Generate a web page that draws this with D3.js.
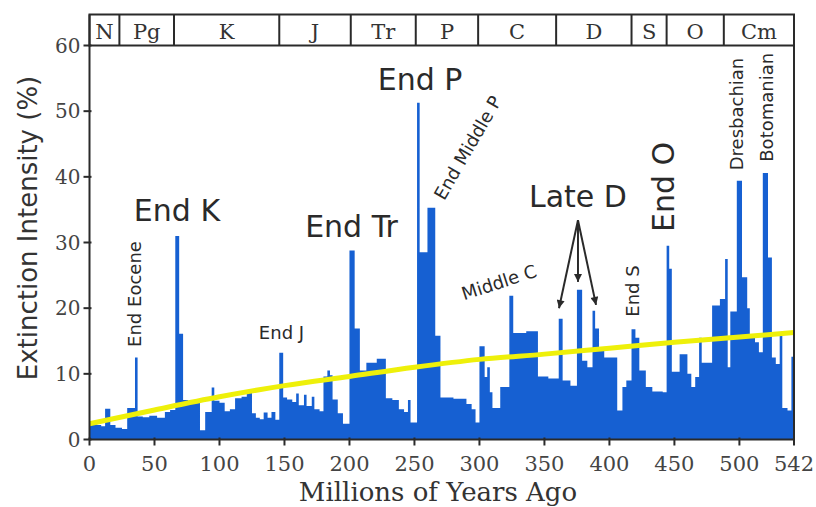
<!DOCTYPE html>
<html>
<head>
<meta charset="utf-8">
<script src="https://cdn.jsdelivr.net/npm/d3@7"></script>
<style>
  body { margin: 0; background: #fff; }
  svg { display: block; }
</style>
</head>
<body>
<svg id="chart" width="816" height="507"></svg>
<script>
// Extinction intensity per time bin (Ma). binEdges has one more entry than intensity.
const binEdges = [
  0, 3, 6, 9, 12, 16, 20, 25, 29, 35, 37, 41, 46, 52, 58, 62, 66, 69, 72, 76,
  80, 85, 89, 94, 96, 100, 104, 108, 112, 117, 121, 125, 128, 131, 134, 137, 140, 143, 146, 149,
  152, 156, 159, 161, 165, 167, 171, 173, 177, 180, 183, 185, 187, 191, 195, 200, 204, 208, 213, 221,
  228, 233, 238, 242, 245, 247, 252, 254, 260, 266, 270, 280, 290, 294, 297, 300, 304, 306, 308, 310,
  316, 323, 326, 336, 345, 353, 361, 364, 370, 375, 379, 383, 387, 389, 392, 396, 406, 410, 413, 417,
  420, 423, 428, 433, 441, 444, 446, 448, 454, 460, 463, 466, 469, 471, 479, 485, 489, 491, 493, 498,
  502, 506, 508, 512, 515, 518, 522, 525, 528, 531, 533, 537, 540, 542
];
const intensity = [
  2.6, 2.3, 2.2, 2.0, 4.7, 2.2, 1.8, 1.6, 4.8, 12.5, 3.5, 3.4, 3.6, 3.3, 4.2, 4.5, 31.0, 16.1, 6.0, 5.8,
  5.6, 1.4, 4.2, 7.9, 5.9, 5.6, 4.3, 4.6, 6.3, 6.5, 7.3, 4.0, 3.3, 3.1, 4.1, 3.3, 4.2, 3.0, 13.2, 6.4,
  6.1, 5.7, 7.0, 5.2, 6.8, 5.1, 6.5, 4.6, 4.3, 9.6, 10.5, 9.8, 6.1, 4.0, 2.4, 28.8, 16.9, 10.5, 11.7, 12.3,
  6.3, 6.0, 4.6, 4.2, 6.0, 2.6, 51.3, 28.5, 35.3, 15.8, 6.4, 6.2, 5.4, 4.6, 2.6, 14.2, 9.5, 11.0, 7.2, 4.8,
  8.0, 21.9, 16.2, 16.5, 9.6, 9.3, 18.4, 9.0, 8.2, 22.8, 12.0, 11.0, 19.6, 16.9, 14.0, 12.5, 4.4, 8.0, 9.0, 16.8,
  15.5, 10.5, 8.0, 7.3, 7.2, 29.5, 26.0, 10.3, 13.0, 10.0, 8.0, 9.5, 15.5, 11.7, 20.4, 21.4, 27.5, 11.0, 19.5, 39.4,
  24.7, 20.0, 16.0, 14.8, 13.3, 40.6, 27.7, 12.5, 11.5, 16.0, 4.8, 4.4, 12.6
];

// Long-term background trend
const trendAge   = [0, 50, 100, 150, 200, 250, 300, 350, 400, 450, 500, 542];
const trendValue = [2.4, 4.5, 6.5, 8.2, 9.6, 11.0, 12.2, 13.0, 13.9, 14.8, 15.6, 16.3];

// Geologic periods shown in the band above the plot
const periodNames  = ["N", "Pg", "K", "J", "Tr", "P", "C", "D", "S", "O", "Cm"];
const periodBounds = [0, 23, 65, 146, 201, 251, 299, 359, 417, 444, 488, 542];

const xTicks = [0, 50, 100, 150, 200, 250, 300, 350, 400, 450, 500, 542];
const yTicks = [0, 10, 20, 30, 40, 50, 60];

// Event labels: [text, age, value, rotation, size, anchor]
const bigLabels = [
  ["End K", 67.3, 33.3, 0, 30, "middle"],
  ["End Tr", 201.6, 30.8, 0, 30, "middle"],
  ["End P", 254.3, 53.2, 0, 30, "middle"],
  ["Late D", 375.8, 35.4, 0, 30, "middle"],
  ["End O", 449.7, 31.6, -90, 30, "start"]
];
const smallLabels = [
  ["End Eocene", 39.7, 14.1, -90, 18, "start"],
  ["End J", 147.7, 15.3, 0, 18, "middle"],
  ["End Middle P", 272.9, 36.3, -60, 18, "start"],
  ["Middle C", 288.2, 21.2, -18, 18, "start"],
  ["End S", 422.7, 18.7, -90, 18, "start"],
  ["Dresbachian", 502.8, 41.0, -90, 18, "start"],
  ["Botomanian", 525.9, 42.3, -90, 18, "start"]
];
// Late Devonian pointer: common origin and the three pulses it points at
const lateDOrigin = [375.8, 33.4];
const lateDTargets = [[361.2, 20.0], [375.8, 24.0], [389.7, 20.5]];

const svg = d3.select("#chart");
const left = 89.5, right = 794, bottom = 439.5, plotTop = 45.5, bandTop = 14.5;

const x = d3.scaleLinear().domain([0, 542]).range([left, right]);
const y = d3.scaleLinear().domain([0, 60]).range([bottom, plotTop]);

const serif = "'DejaVu Serif', serif";
const sans = "'DejaVu Sans', sans-serif";
const ink = "#2a2a2a";

// Intensity as a stepped area
const steps = binEdges.map((e, i) => ({ age: e, v: intensity[Math.min(i, intensity.length - 1)] }));
svg.append("path")
  .datum(steps)
  .attr("fill", "#1660d2")
  .attr("d", d3.area().curve(d3.curveStepAfter)
    .x(d => x(d.age)).y0(y(0)).y1(d => y(d.v)));

// Background trend line
svg.append("path")
  .datum(trendAge.map((a, i) => [a, trendValue[i]]))
  .attr("fill", "none")
  .attr("stroke", "#eef00a")
  .attr("stroke-width", 5)
  .attr("d", d3.line().curve(d3.curveMonotoneX).x(d => x(d[0])).y(d => y(d[1])));

// Frame: left axis, right edge, baseline
const frame = svg.append("g").attr("stroke", ink).attr("stroke-width", 2).attr("fill", "none");
frame.append("line").attr("x1", left).attr("x2", left).attr("y1", bottom).attr("y2", bandTop);
frame.append("line").attr("x1", right).attr("x2", right).attr("y1", bottom).attr("y2", bandTop);
frame.append("line").attr("x1", left).attr("x2", right).attr("y1", bottom).attr("y2", bottom);

// Period band
const band = svg.append("g");
band.append("rect").attr("x", left).attr("y", bandTop).attr("width", right - left)
  .attr("height", plotTop - bandTop).attr("fill", "none").attr("stroke", ink).attr("stroke-width", 2);
periodBounds.slice(1, -1).forEach(b => {
  band.append("line").attr("x1", x(b)).attr("x2", x(b)).attr("y1", bandTop).attr("y2", plotTop)
    .attr("stroke", ink).attr("stroke-width", 2);
});
periodNames.forEach((n, i) => {
  band.append("text")
    .attr("x", (x(periodBounds[i]) + x(periodBounds[i + 1])) / 2)
    .attr("y", 38.5)
    .attr("text-anchor", "middle")
    .attr("font-family", serif).attr("font-size", 21).attr("fill", "#333")
    .text(n);
});

// X axis
const xAxis = svg.append("g");
xTicks.forEach(t => {
  xAxis.append("line").attr("x1", x(t)).attr("x2", x(t)).attr("y1", bottom - 2).attr("y2", bottom + 6)
    .attr("stroke", ink).attr("stroke-width", 2);
  xAxis.append("text").attr("x", x(t)).attr("y", 471).attr("text-anchor", "middle")
    .attr("font-family", serif).attr("font-size", 21).attr("fill", "#444").text(t);
});
svg.append("text").attr("x", 438).attr("y", 501).attr("text-anchor", "middle")
  .attr("font-family", serif).attr("font-size", 26).attr("fill", "#333")
  .text("Millions of Years Ago");

// Y axis
const yAxis = svg.append("g");
yTicks.forEach(t => {
  yAxis.append("line").attr("x1", left - 6).attr("x2", left + 2).attr("y1", y(t)).attr("y2", y(t))
    .attr("stroke", ink).attr("stroke-width", 2);
  yAxis.append("text").attr("x", left - 9).attr("y", y(t)).attr("dy", "0.36em")
    .attr("text-anchor", "end")
    .attr("font-family", serif).attr("font-size", 20).attr("fill", "#444").text(t);
});
svg.append("text")
  .attr("transform", "translate(37,228) rotate(-90)")
  .attr("text-anchor", "middle")
  .attr("font-family", sans).attr("font-size", 26).attr("fill", "#333")
  .text("Extinction Intensity (%)");

// Event labels
function drawLabel(d) {
  const [txt, age, val, rot, size, anchor] = d;
  svg.append("text")
    .attr("transform", `translate(${x(age)},${y(val)}) rotate(${rot})`)
    .attr("text-anchor", anchor)
    .attr("font-family", sans).attr("font-size", size).attr("fill", ink)
    .text(txt);
}
bigLabels.forEach(drawLabel);
smallLabels.forEach(drawLabel);

// Late D arrows
svg.append("defs").append("marker")
  .attr("id", "head").attr("viewBox", "0 0 10 10").attr("refX", 10).attr("refY", 5)
  .attr("markerWidth", 10).attr("markerHeight", 8).attr("markerUnits", "userSpaceOnUse")
  .attr("orient", "auto")
  .append("path").attr("d", "M0,0 L10,5 L0,10 Z").attr("fill", ink);
lateDTargets.forEach(t => {
  svg.append("line")
    .attr("x1", x(lateDOrigin[0])).attr("y1", y(lateDOrigin[1]))
    .attr("x2", x(t[0])).attr("y2", y(t[1]))
    .attr("stroke", ink).attr("stroke-width", 2)
    .attr("marker-end", "url(#head)");
});
</script>
</body>
</html>
